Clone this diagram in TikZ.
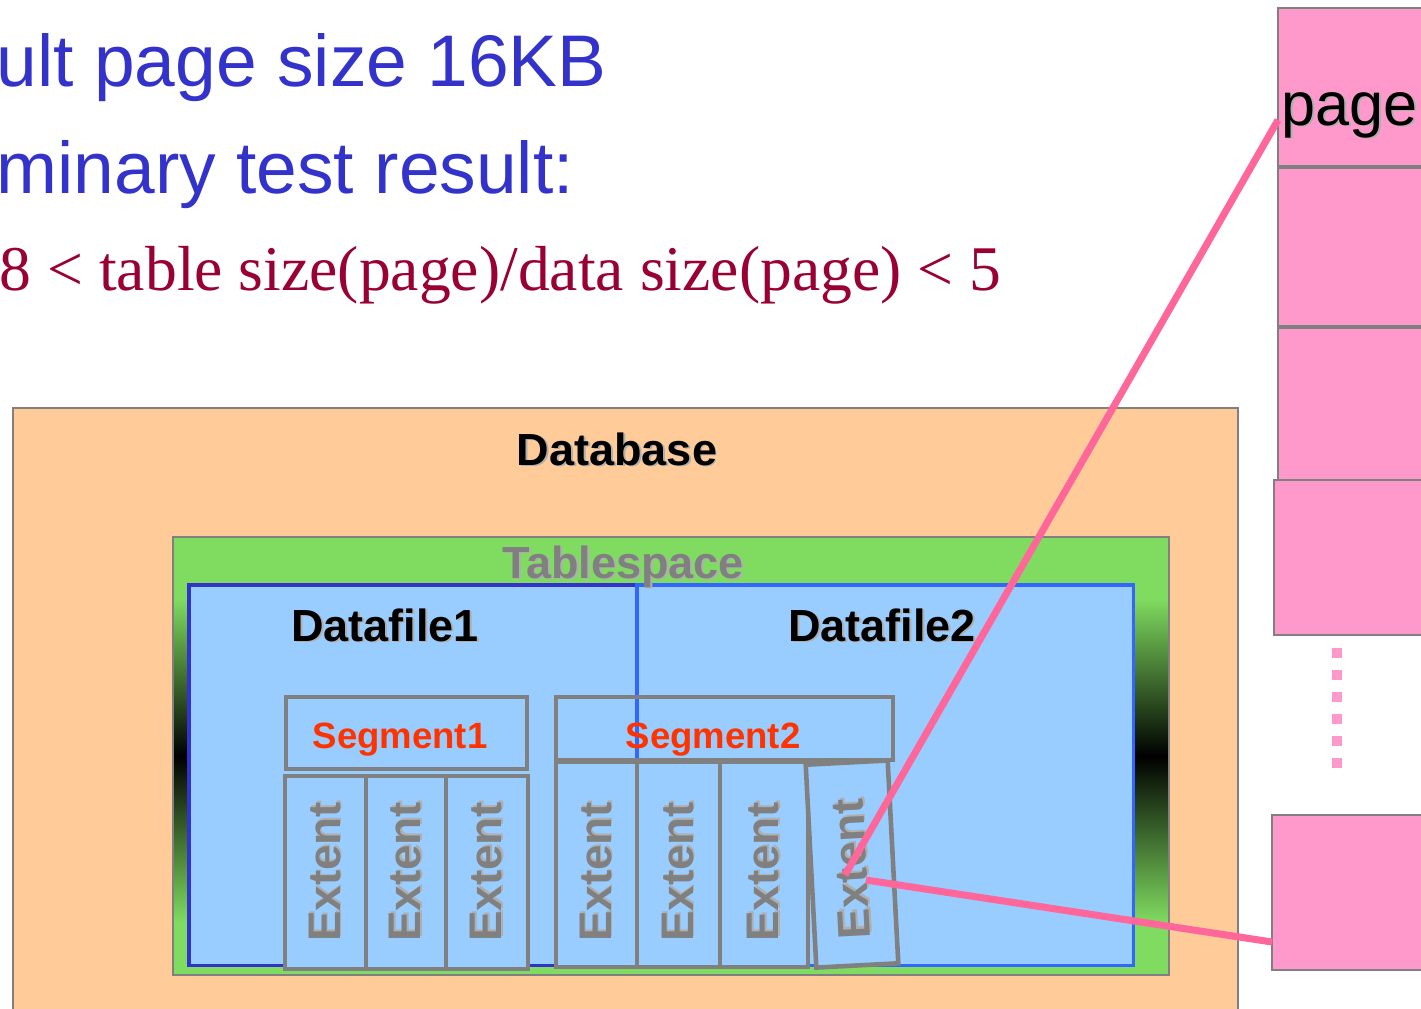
\documentclass[tikz,border=0pt]{standalone}
\usepackage{fontspec}
\setmainfont{Liberation Sans}
\newfontfamily\serifratio{Liberation Serif}
\usetikzlibrary{positioning}

\definecolor{titleblue}{RGB}{51,51,204}
\definecolor{ratiored}{RGB}{153,0,51}
\definecolor{dbfill}{RGB}{255,204,153}
\definecolor{tsgreen}{RGB}{128,220,96}
\definecolor{dffill}{RGB}{153,204,255}
\definecolor{dfoneline}{RGB}{51,51,204}
\definecolor{dftwoline}{RGB}{51,102,255}
\definecolor{segred}{RGB}{255,51,0}
\definecolor{pagefill}{RGB}{255,153,204}
\definecolor{linkpink}{RGB}{255,102,153}
\definecolor{shadowgray}{RGB}{175,175,175}

% groen - zwart - groen over de hoogte van de tablespace
\pgfdeclareverticalshading{tsshading}{100bp}{color(0bp)=(tsgreen); color(31bp)=(tsgreen); color(50bp)=(black); color(68bp)=(tsgreen); color(100bp)=(tsgreen)}

% tekst met schaduw
\newcommand{\shadowed}[2]{\rlap{\kern0.55pt\raisebox{-0.55pt}{\textcolor{#1}{#2}}}#2}

\begin{document}
\begin{tikzpicture}[x=0.01cm, y=-0.01cm,
    box/.style={draw=gray, line width=0.6pt, inner sep=0pt, outer sep=0pt, anchor=north west},
    title/.style={text=titleblue, font=\fontsize{20.8}{25}\selectfont, inner sep=0pt, anchor=base west},
    boxlabel/.style={font=\fontsize{12.8}{15}\selectfont\bfseries, inner sep=0pt, anchor=base},
    seglabel/.style={text=segred, font=\fontsize{10.4}{12}\selectfont\bfseries, inner sep=0pt, anchor=base},
    segbox/.style={box, draw=gray, line width=1.3pt},
    extbox/.style={draw=gray, line width=1.3pt, fill=dffill, inner sep=0pt},
    extlabel/.style={text=gray, font=\fontsize{13}{15}\selectfont\bfseries, inner sep=0pt},
    pagebox/.style={box, fill=pagefill},
    link/.style={linkpink, line width=2pt}]
  \useasboundingbox (0,0) rectangle (1421,1008);
  \clip (0,0) rectangle (1421,1008);

  % --- Tekst bovenaan ---
  \node[title] (line1) at (-4,86) {ult page size 16KB};
  \node[title] (line2) at (-4,193) {minary test result:};
  \node[text=ratiored, font=\serifratio\fontsize{18.1}{22}\selectfont, inner sep=0pt, anchor=base west]
    (line3) at (-1,290) {8 < table size(page)/data size(page) < 5};

  % --- Database en tablespace ---
  \node[box, fill=dbfill, minimum width=12.24cm, minimum height=6.3cm] (db) at (13,408) {};
  \node[boxlabel] (dblabel) at (617,465) {\shadowed{shadowgray}{Database}};
  \node[box, shade, shading=tsshading, minimum width=9.95cm, minimum height=4.38cm] (ts) at (173,537) {};

  % --- Datafiles ---
  \node[box, draw=dfoneline, line width=0.9pt, fill=dffill, minimum width=4.48cm, minimum height=3.8cm] (df1) at (189,585) {};
  \node[box, draw=dftwoline, line width=0.9pt, fill=dffill, minimum width=4.96cm, minimum height=3.8cm] (df2) at (637,585) {};
  \node[boxlabel, text=gray] (tslabel) at (623,578) {\shadowed{shadowgray}{Tablespace}};
  \node[boxlabel] (df1label) at (385,641) {\shadowed{shadowgray}{Datafile1}};
  \node[boxlabel] (df2label) at (882,641) {\shadowed{shadowgray}{Datafile2}};

  % --- Segments ---
  \node[segbox, minimum width=2.41cm, minimum height=0.72cm] (seg1) at (286,697) {};
  \node[segbox, minimum width=3.37cm, minimum height=0.63cm] (seg2) at (556,697) {};
  \node[seglabel] (seg1label) at (400,748) {Segment1};
  \node[seglabel] (seg2label) at (713,748) {Segment2};

  % --- Extents (positie x / breedte) ---
  \foreach \x/\w [count=\i] in {325.5/81, 406/80, 487/82} {
      \node[extbox, rotate=90, minimum width=1.93cm, minimum height=\w*0.1mm] (extone\i) at (\x,872.5) {};
      \node[extlabel, rotate=90] (extonelabel\i) at (\x,872) {\shadowed{shadowgray}{Extent}};
    }
  \foreach \x/\w [count=\i] in {596.5/81, 678.5/83, 764/88} {
      \node[extbox, rotate=90, minimum width=2.05cm, minimum height=\w*0.1mm] (exttwo\i) at (\x,864.5) {};
      \node[extlabel, rotate=90] (exttwolabel\i) at (\x,872) {\shadowed{shadowgray}{Extent}};
    }
  % gekantelde extent
  \node[extbox, rotate=93, minimum width=2.03cm, minimum height=0.82cm] (exttwo4) at (852,864) {};
  \node[extlabel, rotate=93] (exttwolabel4) at (852,869) {\shadowed{shadowgray}{Extent}};

  % --- Pages rechts ---
  \node[pagebox, minimum width=1.6cm, minimum height=1.58cm] (page1) at (1278,8) {};
  \node[pagebox, minimum width=1.6cm, minimum height=1.58cm] (page2) at (1278,168) {};
  \node[pagebox, minimum width=1.6cm, minimum height=1.52cm] (page3) at (1278,328) {};
  \node[pagebox, minimum width=1.6cm, minimum height=1.55cm] (page4) at (1274,480) {};
  \node[pagebox, minimum width=1.6cm, minimum height=1.55cm] (page5) at (1272,815) {};
  \node[font=\fontsize{17.4}{20}\selectfont, inner sep=0pt, anchor=base west] (pagelabel) at (1281,125) {\shadowed{shadowgray}{page}};

  % stippellijn tussen de pages
  \coordinate (gaptop) at (1337,648);
  \coordinate (gapbottom) at (1337,772);
  \draw[pagefill, line width=2.6pt, dash pattern=on 0.1cm off 0.12cm] (gaptop) -- (gapbottom);

  % --- Verbindingen ---
  \coordinate (pageport) at (1278,120);
  \coordinate (lastport) at (1272,942);
  \coordinate (hitin) at (845,875);
  \coordinate (hitout) at (866,880);
  \draw[link] (pageport) -- (hitin);
  \draw[link] (hitout) -- (lastport);
\end{tikzpicture}
\end{document}
